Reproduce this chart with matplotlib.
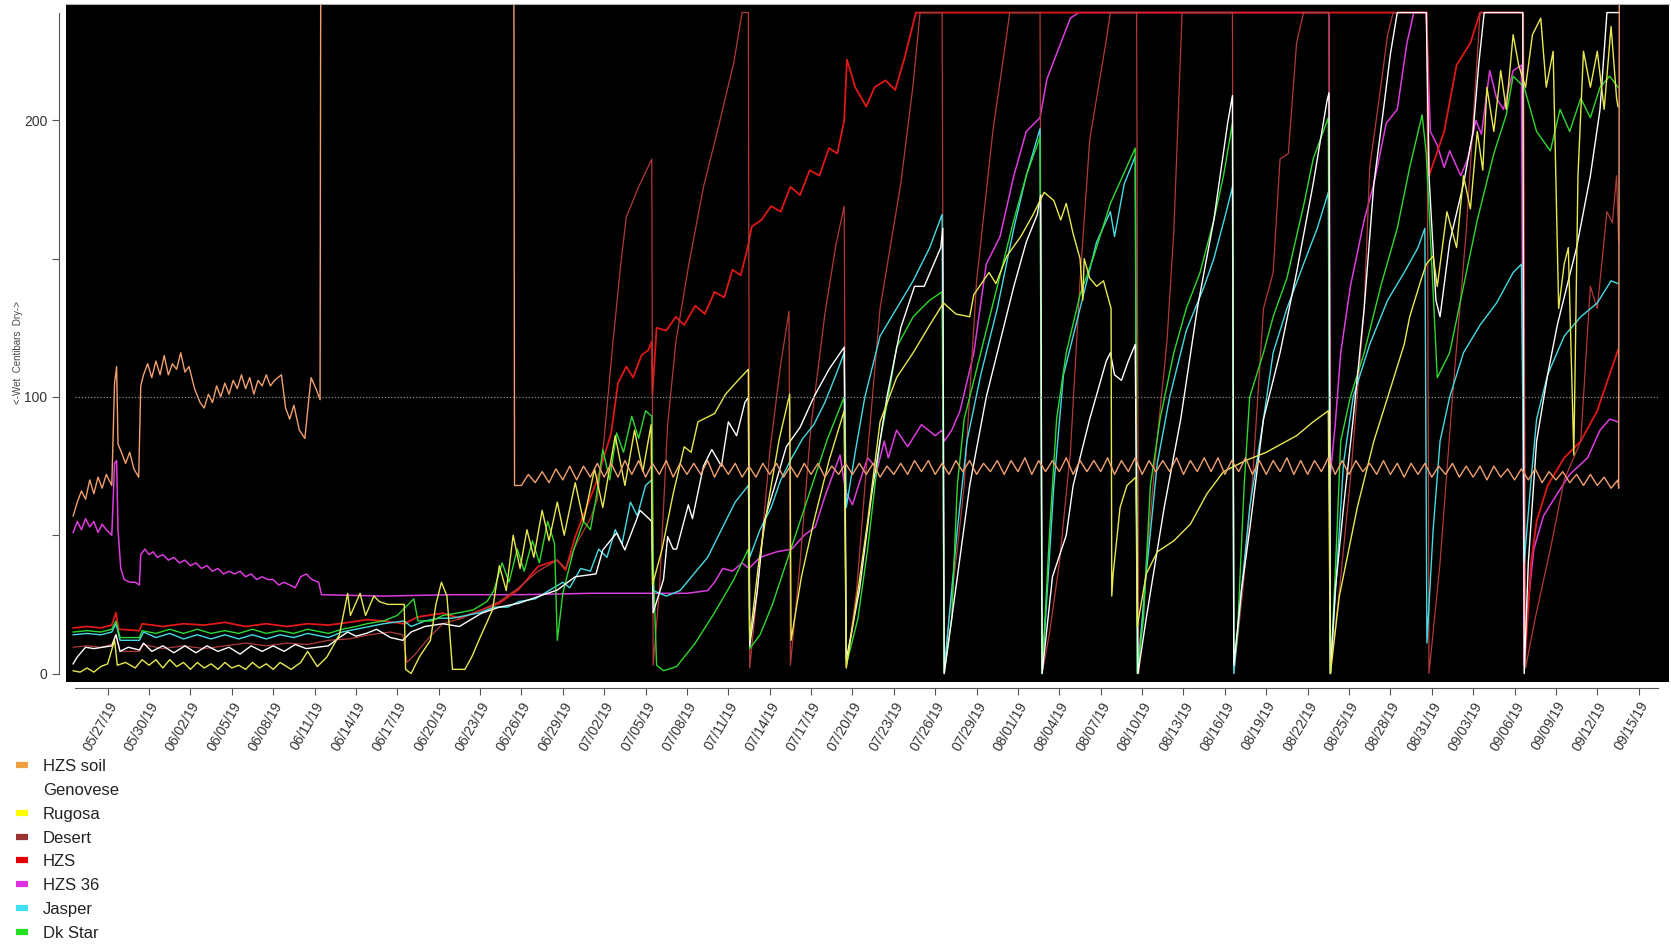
import numpy as np
import pandas as pd
import matplotlib
matplotlib.use('Agg')
import matplotlib.pyplot as plt
import matplotlib.dates as mdates
from matplotlib.lines import Line2D

plt.rcParams['font.family'] = ['Liberation Sans', 'DejaVu Sans']

# ===== DATA (day offset from 05/27/19, centibars) =====
START = pd.Timestamp('2019-05-27')

hzs_soil = [(-2.5, 57), (-2.2, 62), (-1.9, 66), (-1.6, 63), (-1.3, 70), (-1.0, 65), (-0.7, 71), (-0.4, 67),
            (-0.1, 72), (0.3, 68), (0.5, 105), (0.65, 111), (0.75, 83), (1.0, 80), (1.3, 76), (1.6, 80),
            (1.9, 74), (2.25, 71), (2.4, 104), (2.6, 108), (2.9, 112), (3.2, 107), (3.5, 113), (3.8, 108),
            (4.1, 115), (4.4, 108), (4.7, 112), (5.0, 110), (5.3, 116), (5.6, 109), (5.9, 111), (6.3, 103),
            (6.7, 98), (7.0, 96), (7.3, 101), (7.6, 98), (7.9, 104), (8.2, 100), (8.5, 105), (8.8, 101),
            (9.1, 106), (9.4, 103), (9.7, 108), (10.0, 103), (10.3, 107), (10.6, 101), (10.9, 106), (11.2, 104),
            (11.5, 108), (11.8, 104), (12.1, 106), (12.6, 108), (12.9, 96), (13.2, 92), (13.5, 97), (13.9, 88),
            (14.3, 85), (14.6, 100), (14.75, 107), (15.1, 103), (15.4, 99), (15.45, 260), (29.45, 260),
            (29.5, 68)]
# daily swing of the soil sensor after 06/26: low at day k, high at day k + 0.5 (k = 30 .. 109)
soil_wave_first_day = 30
soil_wave_lo = [68, 69, 69, 70, 70, 71, 71, 71, 72, 71,
                72, 71, 72, 72, 71, 72, 71, 71, 72, 71,
                71, 72, 71, 72, 72, 72, 71, 72, 72, 73,
                72, 72, 73, 72, 73, 72, 73, 72, 73, 73,
                72, 73, 73, 72, 73, 72, 73, 73, 72, 73,
                73, 72, 73, 72, 72, 73, 72, 72, 73, 72,
                72, 73, 72, 72, 71, 72, 71, 72, 71, 71,
                70, 71, 70, 70, 69, 70, 69, 68, 68, 67]
soil_wave_hi = [72, 73, 74, 75, 75, 76, 76, 77, 77, 76,
                77, 76, 76, 77, 76, 76, 75, 76, 76, 75,
                76, 76, 75, 76, 76, 76, 75, 76, 77, 77,
                76, 77, 77, 76, 77, 77, 78, 77, 77, 78,
                77, 77, 78, 77, 78, 77, 77, 78, 77, 78,
                78, 77, 78, 77, 77, 78, 77, 77, 78, 77,
                77, 76, 77, 76, 76, 76, 75, 76, 75, 75,
                75, 74, 74, 74, 73, 73, 72, 72, 71, 70]
soil_end = [(109.55, 67), (109.6, 260)]

genovese = [(-2.5, 3.5), (-2.2, 6), (-1.6, 9.5), (-1.0, 9), (0.3, 10), (0.6, 14), (0.9, 8), (1.5, 9.5),
            (2.3, 8.5), (2.6, 11), (3.2, 8), (4.0, 10), (4.8, 7.5), (5.6, 10), (6.4, 7.5), (7.2, 10),
            (8.0, 8), (8.8, 9.5), (9.6, 7), (10.4, 10), (11.2, 8), (12.0, 10), (12.8, 8), (13.6, 10.5),
            (14.4, 9), (15.2, 9.5), (16.0, 10), (16.8, 13), (17.4, 15), (18.0, 13.5), (18.75, 14.5),
            (19.5, 16), (20.5, 13), (21.4, 12), (22.0, 15), (23.0, 17), (24.3, 18), (25.5, 17), (27.1, 21.8),
            (28.4, 24), (29.8, 25.4), (31.2, 27.8), (32.6, 30.2), (33.9, 35), (35.4, 36), (35.9, 44.7),
            (36.9, 50.8), (37.5, 44.7), (38.6, 59), (39.45, 55),
            (39.55, 22), (40.3, 34), (40.6, 49.5), (41.0, 45), (41.25, 45), (42.1, 61), (42.4, 56), (43.2, 75),
            (43.8, 81), (44.5, 75), (45.0, 91), (45.6, 86), (46.2, 98), (46.45, 100),
            (46.55, 10), (47.1, 30), (47.6, 55), (48.5, 70), (49.2, 82), (50.2, 89), (51.2, 100), (52.3, 110),
            (53.4, 118),
            (53.55, 5), (54.5, 30), (55.4, 65), (56.5, 100), (57.5, 125), (58.5, 140), (59.2, 140), (60.4, 154),
            (60.55, 161),
            (60.65, 0), (61.2, 20), (62.5, 68), (63.7, 100), (64.5, 116), (65.7, 140), (66.6, 156), (67.4, 166),
            (67.65, 173),
            (67.75, 0), (68.5, 35), (69.5, 50), (70.0, 68), (71.2, 92), (72.4, 113), (72.7, 116), (73.0, 108),
            (73.5, 106), (74.0, 113), (74.5, 119),
            (74.7, 0), (75.3, 20), (76.6, 60), (77.8, 92), (79.0, 132), (80.2, 164), (81.2, 199), (81.55, 209),
            (81.65, 3), (82.2, 30), (82.8, 52), (83.8, 92), (85.0, 116), (86.2, 145), (87.4, 177), (88.4, 207),
            (88.55, 210),
            (88.65, 0), (89.0, 30), (89.6, 60), (90.3, 92), (91.1, 132), (91.8, 177), (92.5, 204), (93.0, 224),
            (93.5, 239), (95.6, 239),
            (95.8, 180), (96.3, 135), (96.6, 129), (97.3, 156), (98.3, 177), (99.0, 196), (99.4, 220),
            (99.8, 239), (102.6, 239),
            (102.7, 0), (103.0, 40), (103.6, 84), (104.4, 108), (105.1, 126), (105.8, 140), (106.5, 154),
            (107.5, 180), (108.2, 204), (108.7, 239), (109.55, 239)]

rugosa = [(-2.5, 1), (-2.0, 0.5), (-1.5, 2), (-1.0, 0.5), (-0.5, 2.5), (0.0, 3.5), (0.5, 12), (0.7, 3),
          (1.3, 4), (2.0, 2), (2.5, 5), (3.0, 3), (3.5, 5), (4.0, 2), (4.5, 5), (5.0, 2.5), (5.5, 4), (6.0, 1.5),
          (6.5, 4), (7.0, 2), (7.5, 3.5), (8.0, 1.5), (8.5, 4), (9.0, 2), (9.5, 3), (10.0, 1.5), (10.5, 4),
          (11.0, 2), (11.5, 3.5), (12.0, 1.5), (12.5, 4), (13.3, 1.5), (14.0, 4), (14.5, 8), (15.2, 2.5),
          (15.9, 6), (16.8, 14), (17.4, 29), (17.6, 21), (18.3, 29), (18.7, 21), (19.3, 28), (19.7, 26),
          (20.3, 25), (21.5, 25), (21.6, 1.5), (22.0, 0), (22.6, 6), (23.4, 12), (23.8, 25), (24.2, 33),
          (24.6, 28), (25.0, 1.5), (25.9, 1.5), (26.4, 6), (27.0, 13), (27.9, 23), (28.4, 39), (28.9, 30),
          (29.4, 50), (29.9, 38), (30.4, 52), (30.9, 42), (31.5, 59), (32.0, 48), (32.6, 62), (33.1, 50),
          (33.9, 69), (34.5, 55), (35.3, 74), (35.9, 60), (36.8, 86), (37.5, 68), (38.2, 88), (38.8, 73),
          (39.4, 90),
          (39.5, 32), (40.2, 45), (41.0, 65), (41.8, 82), (42.3, 80), (42.8, 91), (44.0, 94), (44.8, 101),
          (45.7, 106), (46.45, 110),
          (46.55, 12), (47.2, 40), (47.9, 62), (48.7, 85), (49.45, 101),
          (49.55, 12), (50.3, 35), (51.2, 55), (52.3, 77), (53.4, 95),
          (53.55, 2), (54.4, 30), (55.1, 55), (56.0, 91), (57.2, 107), (58.4, 116), (59.6, 126), (60.6, 134),
          (61.5, 130), (62.5, 129), (62.8, 137), (63.9, 145), (64.4, 141), (65.2, 151), (66.2, 158),
          (67.1, 166), (67.9, 174), (68.6, 171), (69.1, 164), (69.5, 170), (70.0, 159), (70.5, 150),
          (70.7, 135), (70.8, 150), (71.2, 143), (71.7, 140), (72.2, 142), (72.75, 132),
          (72.8, 28), (72.9, 36), (73.4, 60), (73.9, 68), (74.55, 71),
          (74.65, 17), (75.3, 36), (76.1, 44), (77.3, 48), (78.5, 54), (79.7, 65), (80.9, 73), (82.5, 77),
          (84.0, 80), (86.2, 86), (87.4, 91), (88.5, 95),
          (88.65, 0), (89.3, 28), (90.6, 60), (91.8, 84), (93.0, 103), (94.0, 119), (94.4, 129), (95.2, 142),
          (95.6, 148), (96.1, 151), (96.4, 140), (97.1, 167), (97.8, 154), (98.3, 180), (98.8, 168),
          (99.3, 196), (99.7, 182), (100.0, 212), (100.5, 196), (101.0, 218), (101.4, 204), (101.9, 231),
          (102.3, 220), (102.8, 212), (103.3, 231), (103.9, 237), (104.3, 212), (104.8, 225), (105.2, 132),
          (105.6, 148), (105.9, 154), (106.3, 79), (106.6, 180), (107.0, 225), (107.5, 212), (108.0, 225),
          (108.5, 204), (109.0, 234), (109.4, 208), (109.5, 205)]

desert = [(-2.5, 9.5), (-1.5, 10), (-0.5, 9.5), (0.3, 10.5), (0.6, 14), (0.9, 8), (2.3, 8), (2.6, 10.5),
          (4.0, 9), (5.5, 10), (7.0, 9), (8.5, 10), (10.0, 11), (11.5, 10), (13.0, 11), (14.5, 10.5),
          (16.0, 12), (17.5, 12.5), (19.0, 14), (20.5, 15), (21.4, 14), (21.7, 4), (22.3, 7), (23.3, 13),
          (24.3, 18), (25.7, 20), (27.1, 23), (28.4, 26), (29.8, 31), (31.2, 37), (32.6, 41), (33.2, 38),
          (34.0, 47), (35.0, 56), (35.5, 63), (36.0, 85), (36.6, 118), (37.2, 148), (37.6, 165), (38.5, 176),
          (39.45, 186),
          (39.55, 3), (40.0, 30), (40.6, 90), (41.2, 120), (42.1, 147), (43.2, 176), (44.3, 198), (45.4, 221),
          (46.0, 239), (46.45, 239),
          (46.55, 2), (47.2, 35), (48.0, 80), (48.8, 112), (49.4, 131),
          (49.5, 3), (50.2, 40), (51.0, 90), (52.0, 130), (52.8, 155), (53.4, 169),
          (53.55, 2), (54.3, 30), (55.1, 80), (56.0, 132), (57.5, 177), (58.4, 213), (58.9, 239), (60.5, 239),
          (60.65, 0), (61.0, 20), (61.6, 45), (62.1, 68), (63.0, 142), (64.2, 197), (65.1, 228), (65.4, 239),
          (67.6, 239),
          (67.75, 0), (68.3, 15), (69.0, 40), (69.8, 80), (70.5, 142), (71.2, 193), (72.4, 229), (72.7, 239),
          (74.6, 239),
          (74.75, 0), (75.3, 40), (76.0, 80), (76.8, 120), (77.3, 160), (77.9, 239), (81.55, 239),
          (81.65, 0), (82.3, 30), (83.0, 70), (83.8, 132), (84.5, 145), (85.0, 186), (85.6, 188), (86.2, 228),
          (86.7, 239), (88.55, 239),
          (88.65, 0), (89.3, 30), (90.1, 70), (91.1, 132), (91.5, 183), (92.3, 212), (92.8, 231), (93.2, 239),
          (95.65, 239),
          (95.8, 0), (96.6, 40), (97.5, 100), (98.5, 160), (99.5, 239), (102.65, 239),
          (102.8, 2), (103.5, 20), (104.6, 45), (105.6, 70), (106.8, 84), (107.5, 140), (108.0, 132),
          (108.7, 167), (109.1, 163), (109.4, 180), (109.55, 156)]

hzs = [(-2.5, 16.5), (-1.5, 17), (-0.5, 16.5), (0.3, 17.5), (0.6, 22), (0.8, 16), (2.3, 15.5), (2.5, 18),
       (4.0, 17), (5.5, 18), (7.0, 17.5), (8.5, 18.5), (10.0, 17), (11.5, 18), (13.0, 17), (14.5, 18),
       (16.0, 17.5), (17.5, 18.5), (18.8, 19.5), (20.0, 19), (21.5, 18), (22.5, 20.5), (24.3, 21.8),
       (25.5, 20), (27.1, 23), (28.4, 25.4), (29.8, 30.4), (31.2, 38.7), (32.6, 41), (33.2, 37.4),
       (33.9, 49.5), (35.4, 68.8), (36.5, 86.8), (37.0, 105), (37.6, 111), (38.1, 107), (38.7, 115),
       (39.2, 117), (39.45, 120), (39.5, 101), (39.8, 125), (40.5, 124), (41.2, 129), (41.8, 126),
       (42.6, 133), (43.3, 130), (44.0, 138), (44.7, 136), (45.3, 146), (45.9, 144), (46.4, 154),
       (46.7, 161.6), (47.4, 164), (48.1, 169), (48.8, 167), (49.5, 176), (50.2, 173), (50.9, 182),
       (51.6, 180), (52.3, 190), (52.9, 188), (53.4, 200), (53.6, 222), (54.2, 212), (55.0, 205),
       (55.6, 212), (56.4, 214.5), (57.1, 211), (57.8, 223), (58.6, 239), (95.65, 239), (95.8, 180),
       (96.9, 196), (97.8, 220), (98.8, 228), (99.5, 239), (102.6, 239), (102.75, 4), (103.2, 40),
       (103.6, 55), (104.4, 68), (105.6, 78), (106.8, 84), (108.0, 95), (109.5, 117)]

hzs36 = [(-2.5, 51), (-2.2, 55), (-1.9, 52), (-1.6, 56), (-1.3, 53), (-1.0, 55), (-0.7, 51), (-0.4, 54),
         (-0.1, 52), (0.3, 50), (0.5, 76), (0.65, 77), (0.75, 52), (0.95, 38), (1.2, 34), (1.6, 33),
         (2.0, 33), (2.3, 32), (2.4, 43), (2.7, 45), (3.0, 43), (3.3, 44), (3.6, 42), (4.0, 43), (4.4, 41),
         (4.8, 42), (5.2, 40), (5.6, 41), (6.0, 39), (6.4, 40), (6.8, 38), (7.2, 39), (7.6, 37), (8.0, 38),
         (8.4, 36), (8.8, 37), (9.2, 36), (9.6, 37), (10.0, 35), (10.4, 36), (10.8, 34), (11.2, 35),
         (11.6, 34), (12.0, 34), (12.4, 32), (12.8, 33), (13.2, 32), (13.6, 31), (14.0, 35), (14.4, 36),
         (14.8, 34), (15.3, 33), (15.5, 28.5), (20.0, 28), (25.0, 28.5), (30.0, 28.5), (35.0, 29),
         (39.6, 29), (42.0, 29), (43.5, 30), (44.0, 33), (44.6, 38), (45.3, 37), (46.0, 40), (46.5, 38),
         (47.3, 42), (48.5, 44), (49.6, 45), (50.5, 50), (51.3, 53), (52.0, 64), (53.1, 79), (53.5, 66),
         (54.0, 61), (54.5, 69), (55.1, 78), (55.8, 74), (56.3, 84), (56.6, 78), (57.2, 88), (58.0, 82),
         (59.0, 90), (60.0, 86), (60.5, 88), (60.65, 84), (61.2, 88), (61.8, 95), (62.8, 116),
         (63.7, 148), (64.7, 158), (65.7, 180), (66.6, 196), (67.6, 201), (68.1, 215), (69.1, 228),
         (69.8, 237), (70.4, 239), (88.55, 239), (88.65, 72), (89.0, 90), (89.4, 116), (90.1, 140),
         (91.1, 164), (91.8, 177), (92.7, 199), (93.5, 204), (94.2, 228), (94.7, 239), (95.6, 239),
         (95.9, 196), (96.4, 191), (96.9, 183), (97.3, 189), (98.1, 180), (98.6, 186), (99.2, 200),
         (99.6, 195), (100.2, 218), (100.7, 208), (101.2, 204), (101.9, 218), (102.5, 220), (102.7, 3),
         (102.9, 21), (103.4, 45), (104.1, 57), (105.1, 65), (106.0, 72), (107.3, 78), (108.2, 88),
         (108.9, 92), (109.5, 91)]

jasper = [(-2.5, 14), (-1.5, 14.5), (-0.5, 14), (0.3, 15), (0.6, 18), (0.9, 12), (2.3, 12), (2.6, 15),
          (3.5, 13), (4.5, 14.5), (5.5, 12.5), (6.5, 14), (7.5, 12.5), (8.5, 14), (9.5, 12.5), (10.5, 14),
          (11.5, 12.5), (12.5, 14), (13.5, 13), (14.5, 14.5), (16.0, 13), (17.0, 15), (18.0, 16), (19.0, 17),
          (20.0, 18), (21.5, 19), (22.0, 17), (23.0, 19), (24.0, 20), (25.0, 20), (26.0, 21), (27.0, 22),
          (28.0, 24), (29.0, 24), (29.8, 26), (31.0, 27), (32.0, 30), (33.0, 33), (33.5, 31), (34.3, 38),
          (35.0, 37), (35.6, 45), (36.2, 42), (36.8, 52), (37.3, 47), (37.9, 62), (38.4, 57), (39.0, 68),
          (39.45, 70),
          (39.55, 30), (40.5, 28), (41.5, 30), (42.5, 36), (43.5, 42), (44.5, 52), (45.5, 62), (46.45, 68),
          (46.55, 42), (47.3, 52), (48.1, 60), (48.8, 70), (49.6, 78), (50.4, 85), (51.2, 90), (52.0, 98),
          (52.8, 108), (53.4, 116),
          (53.55, 60), (54.2, 80), (54.9, 100), (56.0, 122), (57.2, 132), (58.4, 142), (59.6, 154), (60.5, 166),
          (60.65, 1), (61.1, 25), (61.6, 52), (62.3, 84), (63.3, 108), (64.5, 132), (65.7, 161), (66.6, 180),
          (67.6, 197),
          (67.75, 0), (68.6, 68), (69.3, 108), (70.5, 132), (71.7, 156), (72.7, 167), (73.0, 158), (73.7, 177),
          (74.5, 187),
          (74.65, 0), (75.3, 36), (76.1, 76), (77.0, 100), (78.2, 124), (79.5, 140), (80.2, 150), (81.0, 165),
          (81.55, 176),
          (81.65, 0), (82.2, 30), (82.8, 60), (83.8, 92), (84.5, 116), (85.5, 132), (86.7, 148), (87.7, 161),
          (88.5, 174),
          (88.65, 0), (89.1, 36), (89.6, 76), (90.3, 100), (91.5, 119), (92.8, 135), (94.0, 145), (95.0, 154),
          (95.5, 161),
          (95.65, 11), (96.1, 52), (96.6, 84), (97.3, 100), (98.3, 116), (99.5, 126), (100.7, 134),
          (101.9, 145), (102.5, 148),
          (102.7, 40), (103.2, 70), (103.6, 92), (104.4, 108), (105.6, 122), (106.8, 129), (108.0, 134),
          (109.0, 142), (109.5, 141)]

dk_star = [(-2.5, 15), (-1.5, 15.5), (-0.5, 15), (0.3, 16), (0.6, 19), (0.9, 13), (2.3, 13), (2.5, 15.5),
           (3.5, 14.5), (4.5, 16), (5.5, 14.5), (6.5, 16), (7.5, 14.5), (8.5, 15.5), (9.5, 14.5), (10.5, 16),
           (11.5, 14.5), (12.5, 15.5), (13.5, 14.5), (14.5, 16), (16.0, 14.5), (17.0, 16), (18.0, 17),
           (18.8, 18), (20.0, 19), (21.0, 21), (22.2, 27), (22.5, 19), (23.5, 19), (24.3, 21), (25.5, 22),
           (26.5, 23), (27.5, 26), (28.0, 30), (28.6, 40), (29.1, 33), (29.7, 45), (30.2, 37), (30.8, 48),
           (31.3, 40), (31.9, 55), (32.4, 47), (32.6, 12), (33.0, 29), (33.8, 45), (34.5, 55), (35.0, 52),
           (35.4, 63), (35.9, 81), (36.4, 70), (36.9, 87), (37.4, 80), (38.0, 93), (38.5, 85), (39.0, 95),
           (39.45, 93),
           (39.55, 40), (39.8, 3), (40.3, 1), (41.25, 2.5), (42.6, 11), (44.0, 22), (45.4, 34), (46.45, 45),
           (46.55, 9), (47.3, 14), (48.2, 25), (49.2, 40), (50.2, 55), (51.2, 70), (52.2, 85), (53.4, 100),
           (53.55, 3), (54.4, 20), (55.1, 45), (56.0, 84), (56.6, 100), (57.2, 118), (58.4, 129), (59.6, 135),
           (60.5, 138),
           (60.65, 0), (61.2, 20), (61.6, 68), (62.1, 92), (63.3, 116), (64.5, 140), (65.7, 164), (66.6, 180),
           (67.6, 194),
           (67.75, 0), (68.3, 52), (68.8, 92), (69.5, 116), (70.5, 137), (71.5, 151), (72.7, 170), (73.6, 180),
           (74.5, 190),
           (74.65, 0), (75.1, 20), (75.6, 68), (76.3, 92), (77.3, 116), (78.2, 132), (79.2, 145), (80.2, 164),
           (80.9, 180), (81.55, 199),
           (81.65, 5), (81.9, 13), (82.4, 68), (82.8, 100), (83.8, 116), (84.5, 129), (85.5, 143), (86.7, 169),
           (87.4, 186), (88.5, 201),
           (88.65, 0), (89.0, 36), (89.4, 84), (90.1, 100), (91.1, 116), (92.3, 140), (93.5, 161), (94.4, 183),
           (95.3, 202), (95.6, 188),
           (96.0, 148), (96.4, 107), (97.3, 116), (98.3, 140), (99.3, 164), (100.5, 188), (101.4, 202),
           (101.9, 216), (102.7, 212), (103.6, 196), (104.6, 189), (105.3, 204), (106.0, 196), (106.8, 208),
           (107.5, 201), (108.2, 212), (108.9, 216), (109.5, 212)]

legend_labels = ['HZS soil', 'Genovese', 'Rugosa', 'Desert', 'HZS', 'HZS 36', 'Jasper', 'Dk Star']
legend_colors = ['#f0a040', '#ffffff', '#ffff00', '#993333', '#e00000', '#e030e0', '#40e0f0', '#20e020']
# =========================

base = mdates.date2num(START)


def unpack(pairs):
    d, v = zip(*pairs)
    return base + np.array(d, dtype=float), np.array(v, dtype=float)


# soil sensor: build wave part from the low/high readings
soil_pairs = list(hzs_soil)
for i, (lo, hi) in enumerate(zip(soil_wave_lo, soil_wave_hi)):
    soil_pairs.append((soil_wave_first_day + i, lo))
    soil_pairs.append((soil_wave_first_day + i + 0.5, hi))
soil_pairs += soil_end

fig = plt.figure(figsize=(16.71, 9.46), dpi=100)
ax = fig.add_axes([66 / 1671, 1 - 682 / 946, (1669 - 66) / 1671, (682 - 4) / 946])
ax.set_facecolor('black')

series = [
    (hzs36, '#dd3cdd', 1.1),
    (hzs, '#e01818', 1.3),
    (desert, '#b03a3a', 0.9),
    (jasper, '#46dbe2', 1.0),
    (dk_star, '#2fd82f', 1.0),
    (genovese, '#ffffff', 1.0),
    (rugosa, '#e8e850', 1.0),
    (soil_pairs, '#f0a070', 1.0),
]
for pairs, color, lw in series:
    x, y = unpack(pairs)
    ax.plot(x, y, color=color, linewidth=lw)

# reference line at 100 centibars
ax.hlines(100, base - 2.4, base + 112.4, colors='#8a8a8a', linestyles=(0, (1, 1.5)), linewidth=0.9)

ax.set_xlim(base - 3.02, base + 113.2)
ax.set_ylim(-3.07, 242.1)

# axes styling (R-like detached axes)
ax.spines['right'].set_visible(False)
ax.spines['top'].set_color('#b0b0b0')
ax.spines['top'].set_linewidth(0.8)
ax.spines['left'].set_position(('outward', 5))
ax.spines['left'].set_bounds(0, 239)
ax.spines['left'].set_color('#555555')
ax.spines['bottom'].set_position(('outward', 4))
ax.spines['bottom'].set_bounds(base - 2.4, base + 112.4)
ax.spines['bottom'].set_color('#555555')

ax.set_yticks([0, 50, 100, 150, 200])
ax.set_yticklabels(['0', '', '100', '', '200'])
tick_dates = pd.date_range('2019-05-27', '2019-09-15', freq='3D')
ax.set_xticks(mdates.date2num(tick_dates))
ax.xaxis.set_major_formatter(mdates.DateFormatter('%m/%d/%y'))
ax.tick_params(axis='both', colors='#555555', labelcolor='#333333', length=5, width=0.8, labelsize=10)
for lbl in ax.get_xticklabels():
    lbl.set_rotation(60)
    lbl.set_ha('right')
    lbl.set_va('top')
    lbl.set_rotation_mode('anchor')

fig.text(18 / 1671, 1 - 352 / 946, '<-Wet  Centibars  Dry->', rotation=90, fontsize=7,
         color='#444444', ha='center', va='center')

handles = [Line2D([], [], color=c, linewidth=4.5, solid_capstyle='butt') for c in legend_colors]
fig.legend(handles, legend_labels, loc='upper left', bbox_to_anchor=(16 / 1671, 1 - 759 / 946),
           frameon=False, fontsize=12, handlelength=0.7, handletextpad=0.9, labelspacing=0.53,
           borderaxespad=0, borderpad=0, labelcolor='#222222')

fig.savefig('out.png', dpi=100)
